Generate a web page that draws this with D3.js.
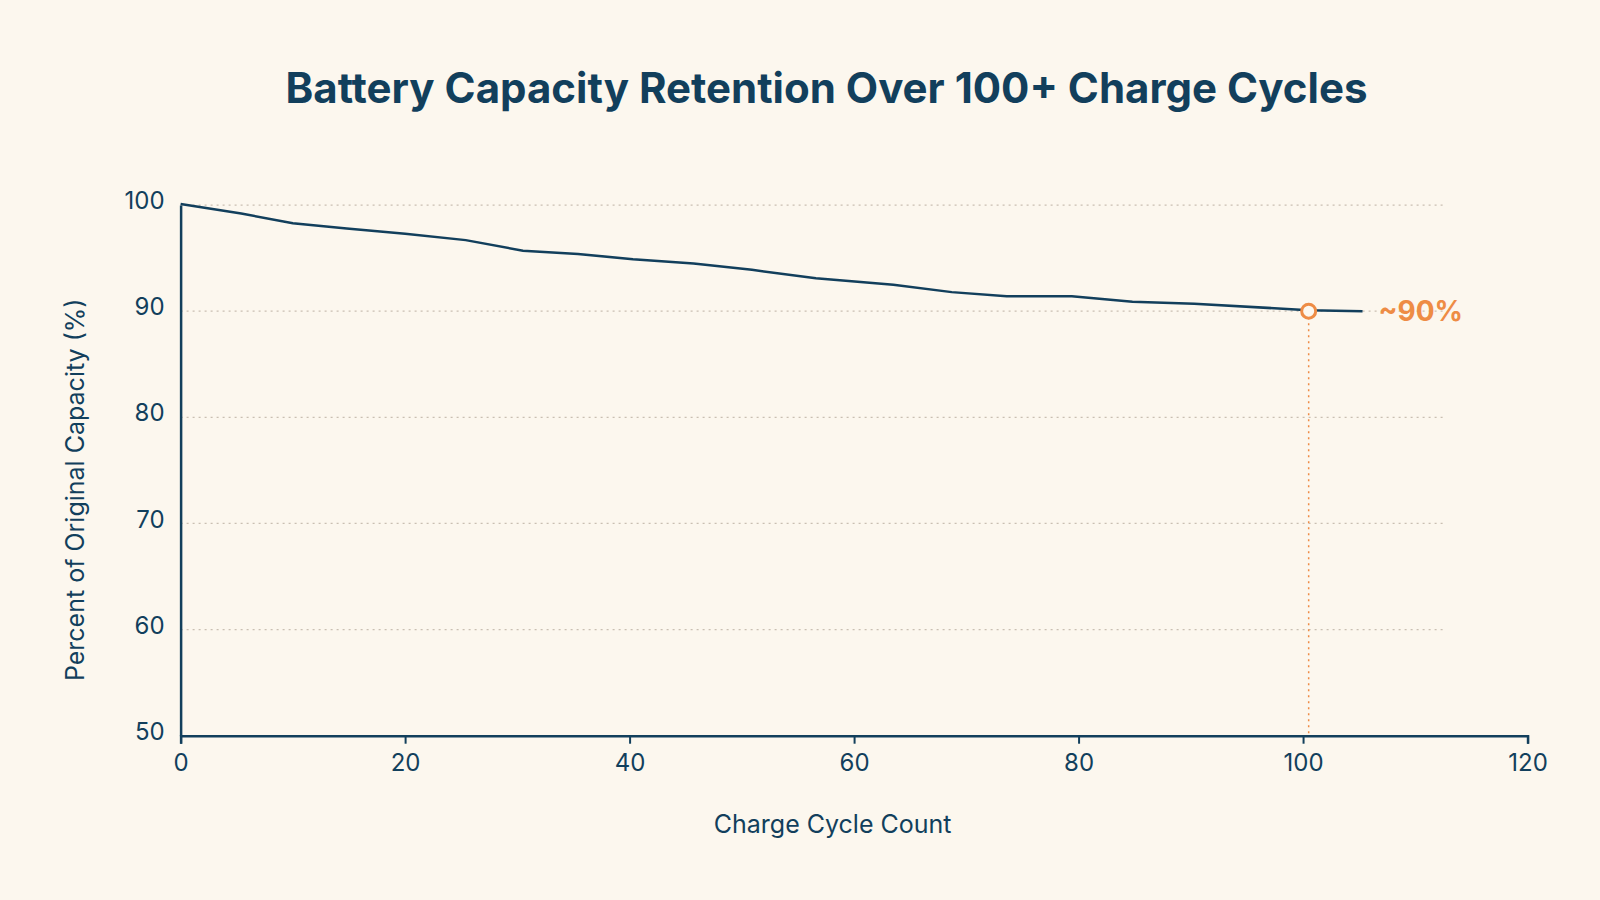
<!DOCTYPE html>
<html><head><meta charset="utf-8">
<script src="https://cdn.jsdelivr.net/npm/d3@7"></script>
<style>body{margin:0;background:#fcf7ee;font-family:Inter,"Noto Sans",sans-serif}</style>
</head><body><div id="chart"></div>
<script>
const cycles = [0, 5.4, 10, 14.8, 20, 25.4, 30.5, 35.4, 40.3, 45.7, 50.9, 56.6, 63.5, 68.7, 73.6, 79.4, 84.8, 90.3, 100.5, 105.3]
const capacity = [100.1, 99.2, 98.3, 97.8, 97.3, 96.7, 95.7, 95.4, 94.9, 94.5, 93.9, 93.1, 92.5, 91.8, 91.4, 91.4, 90.9, 90.7, 90.1, 90.0]
const xTicks = [0, 20, 40, 60, 80, 100, 120]
const yTicks = [50, 60, 70, 80, 90, 100]
const marker = { x: 100.5, y: 90, label: "~90%" }

const k = 1600 / 1568
const navy = "#123f5c", orange = "#ee8c45"
const svg = d3.select("#chart").append("svg").attr("width", 1600).attr("height", 900)
svg.append("rect").attr("width", 1600).attr("height", 900).attr("fill", "#fcf7ee")

const x = d3.scaleLinear().domain([0, 120]).range([177 * k, 1497 * k])
const y = d3.scaleLinear().domain([50, 100]).range([721 * k, 201 * k])

svg.append("text").attr("x", 810 * k).attr("y", 101 * k).attr("text-anchor", "middle")
  .attr("font-size", 42).attr("font-weight", 700).attr("fill", navy)
  .text("Battery Capacity Retention Over 100+ Charge Cycles")

// grid
svg.selectAll(".grid").data(yTicks.filter(d => d > 50)).enter().append("line")
  .attr("x1", x(0)).attr("x2", x(112.7)).attr("y1", d => y(d)).attr("y2", d => y(d))
  .attr("stroke", "#c9bfb2").attr("stroke-width", 1.3).attr("stroke-dasharray", "2,4")

const xAxis = svg.append("g").attr("transform", `translate(0,${y(50)})`)
  .call(d3.axisBottom(x).tickValues(xTicks).tickSize(8).tickPadding(10))
const yAxis = svg.append("g").attr("transform", `translate(${x(0)},0)`)
  .call(d3.axisLeft(y).tickValues(yTicks).tickSize(0).tickPadding(16))
;[xAxis, yAxis].forEach(a => {
  a.select(".domain").attr("stroke", navy).attr("stroke-width", 2.5)
  a.selectAll(".tick line").attr("stroke", navy).attr("stroke-width", 2)
  a.selectAll("text").attr("font-size", 24).attr("fill", navy).attr("font-family", "Inter,sans-serif")
})
yAxis.selectAll("text").attr("dy", "0.15em")

svg.append("text").attr("x", 816 * k).attr("y", 816 * k).attr("text-anchor", "middle")
  .attr("font-size", 25).attr("fill", navy).text("Charge Cycle Count")
svg.append("text").attr("transform", `translate(${82 * k},${480 * k}) rotate(-90)`).attr("text-anchor", "middle")
  .attr("font-size", 25).attr("fill", navy).text("Percent of Original Capacity (%)")

// drop line
svg.append("line").attr("x1", x(marker.x)).attr("x2", x(marker.x)).attr("y1", y(marker.y)).attr("y2", y(50))
  .attr("stroke", orange).attr("stroke-width", 1.5).attr("stroke-dasharray", "2,4")

const data = cycles.map((c, i) => [c, capacity[i]])
svg.append("path").datum(data).attr("fill", "none").attr("stroke", navy).attr("stroke-width", 2.5)
  .attr("d", d3.line().x(d => x(d[0])).y(d => y(d[1])))

svg.append("circle").attr("cx", x(marker.x)).attr("cy", y(marker.y)).attr("r", 7)
  .attr("fill", "#fcf7ee").attr("stroke", orange).attr("stroke-width", 3)
svg.append("text").attr("x", x(105.3) + 16).attr("y", y(marker.y) + 10)
  .attr("font-size", 28).attr("font-weight", 700).attr("fill", orange).text(marker.label)
</script></body></html>
